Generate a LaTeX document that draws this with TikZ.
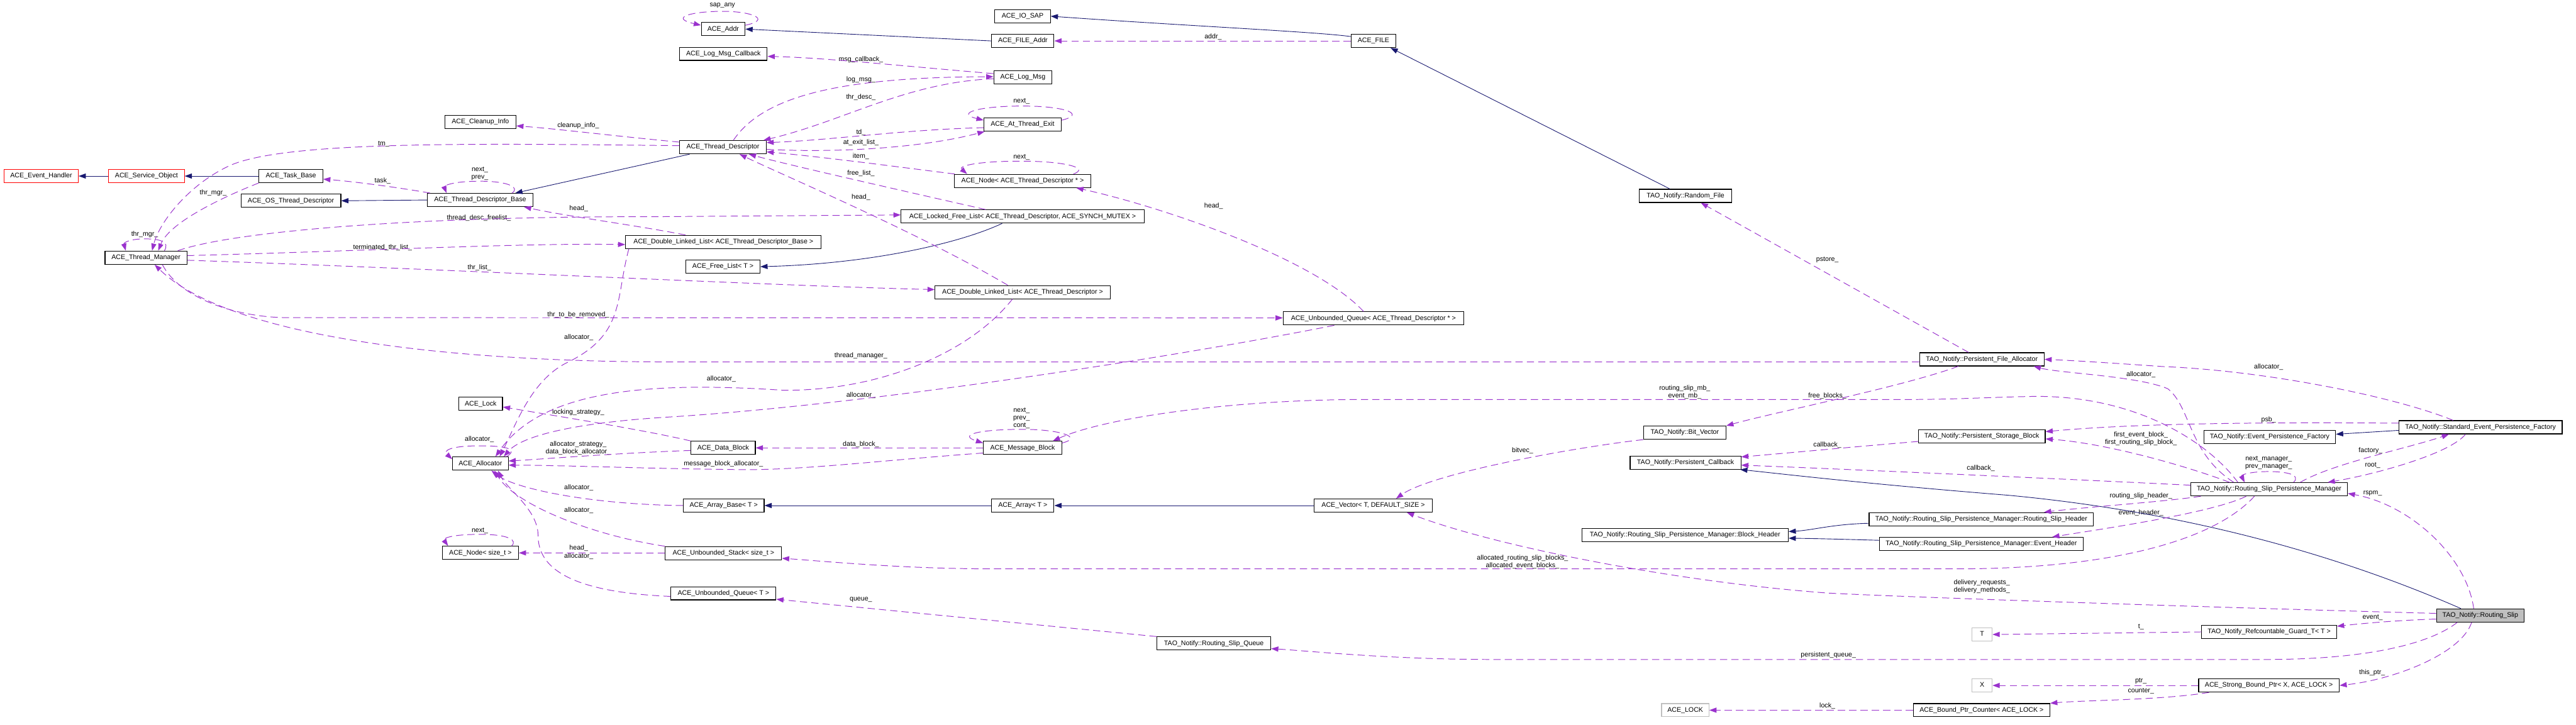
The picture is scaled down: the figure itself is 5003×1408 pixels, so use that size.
\documentclass[tikz,border=0pt]{standalone}
\usepackage{fontspec}
\setmainfont{Liberation Sans}
\usetikzlibrary{arrows.meta,calc}
\definecolor{depc}{HTML}{9A32CD}
\definecolor{inhc}{HTML}{191970}
\definecolor{greyb}{HTML}{BFBFBF}
\newcommand\dxf{\fontsize{6.5}{7.3}\selectfont}
\begin{document}
\begin{tikzpicture}[x=0.5pt,y=-0.5pt,
 cls/.style={draw=black, line width=0.7pt, fill=white, inner xsep=1pt, inner ysep=0pt, minimum height=12.8pt, font=\dxf, text height=4.8pt, text depth=1.4pt},
 lab/.style={font=\dxf, align=center, inner sep=0pt},
 dep/.style={draw=depc, line width=0.6pt, dash pattern=on 7pt off 4pt, -{Triangle[length=7pt,width=5pt]}},
 inh/.style={draw=inhc, line width=0.55pt, -{Triangle[length=7pt,width=5pt]}}]
\useasboundingbox (0,0) rectangle (5003,1408);
% classes
\node[cls, draw=red, minimum width=72pt] (eh) at (80,342) {ACE\_Event\_Handler};
\node[cls, draw=red, minimum width=73.5pt] (so) at (284.5,342) {ACE\_Service\_Object};
\node[cls, minimum width=62pt] (tb) at (565,342) {ACE\_Task\_Base};
\node[cls, minimum width=97pt] (ostd) at (565,390) {ACE\_OS\_Thread\_Descriptor};
\node[cls, minimum width=102.5pt] (tdb) at (932.5,388.5) {ACE\_Thread\_Descriptor\_Base};
\node[cls, minimum width=69pt] (ci) at (933,236.5) {ACE\_Cleanup\_Info};
\node[cls, minimum width=79.5pt] (tm) at (283.5,500.5) {ACE\_Thread\_Manager};
\node[cls, minimum width=42.5pt] (lock) at (933.5,784.5) {ACE\_Lock};
\node[cls, minimum width=54pt] (alloc) at (933,900.5) {ACE\_Allocator};
\node[cls, minimum width=74pt] (nst) at (933,1074) {ACE\_Node< size\_t >};
\node[cls, minimum width=42.5pt] (addr) at (1404.5,56.5) {ACE\_Addr};
\node[cls, minimum width=54pt] (iosap) at (1986,31.5) {ACE\_IO\_SAP};
\node[cls, minimum width=60.5pt] (faddr) at (1986.5,79.5) {ACE\_FILE\_Addr};
\node[cls, minimum width=85pt] (lmcb) at (1405,104.5) {ACE\_Log\_Msg\_Callback};
\node[cls, minimum width=56.5pt] (lm) at (1986.5,150) {ACE\_Log\_Msg};
\node[cls, minimum width=75pt] (ate) at (1986,242) {ACE\_At\_Thread\_Exit};
\node[cls, minimum width=84pt] (td) at (1404,286) {ACE\_Thread\_Descriptor};
\node[cls, minimum width=133pt] (ntd) at (1986,351.5) {ACE\_Node< ACE\_Thread\_Descriptor * >};
\node[cls, minimum width=236pt] (lfl) at (1986,420.5) {ACE\_Locked\_Free\_List< ACE\_Thread\_Descriptor, ACE\_SYNCH\_MUTEX >};
\node[cls, minimum width=190pt] (dlltdb) at (1405,470) {ACE\_Double\_Linked\_List< ACE\_Thread\_Descriptor\_Base >};
\node[cls, minimum width=72pt] (fl) at (1404,518) {ACE\_Free\_List< T >};
\node[cls, minimum width=170pt] (dlltd) at (1986,567.5) {ACE\_Double\_Linked\_List< ACE\_Thread\_Descriptor >};
\node[cls, minimum width=62.5pt] (db) at (1404.5,870) {ACE\_Data\_Block};
\node[cls, minimum width=76pt] (mb) at (1986,870) {ACE\_Message\_Block};
\node[cls, minimum width=175.5pt] (uqtd) at (2667.5,618.5) {ACE\_Unbounded\_Queue< ACE\_Thread\_Descriptor * >};
\node[cls, minimum width=43.5pt] (file) at (2667.5,79.5) {ACE\_FILE};
\node[cls, minimum width=89.5pt] (rf) at (3273.5,380.5) {TAO\_Notify::Random\_File};
\node[cls, minimum width=80pt] (bv) at (3272,840.5) {TAO\_Notify::Bit\_Vector};
\node[cls, minimum width=107.5pt] (pc) at (3273.5,898.5) {TAO\_Notify::Persistent\_Callback};
\node[cls, minimum width=121pt] (pfa) at (3849,698) {TAO\_Notify::Persistent\_File\_Allocator};
\node[cls, minimum width=123pt] (psb) at (3849,847.5) {TAO\_Notify::Persistent\_Storage\_Block};
\node[cls, minimum width=128pt] (epf) at (4408,848.5) {TAO\_Notify::Event\_Persistence\_Factory};
\node[cls, minimum width=158.5pt] (sepf) at (4817.5,830) {TAO\_Notify::Standard\_Event\_Persistence\_Factory};
\node[cls, minimum width=152pt] (rspm) at (4407,950.5) {TAO\_Notify::Routing\_Slip\_Persistence\_Manager};
\node[cls, minimum width=78.5pt] (ab) at (1405.5,982) {ACE\_Array\_Base< T >};
\node[cls, minimum width=60.5pt] (arr) at (1986.5,982) {ACE\_Array< T >};
\node[cls, minimum width=113pt] (ust) at (1405,1074.5) {ACE\_Unbounded\_Stack< size\_t >};
\node[cls, minimum width=102pt] (uqt) at (1405,1152.5) {ACE\_Unbounded\_Queue< T >};
\node[cls, minimum width=110.5pt] (rsq) at (2357.5,1250) {TAO\_Notify::Routing\_Slip\_Queue};
\node[cls, minimum width=115pt] (vec) at (2667,982) {ACE\_Vector< T, DEFAULT\_SIZE >};
\node[cls, minimum width=200.5pt] (bh) at (3272.5,1039.5) {TAO\_Notify::Routing\_Slip\_Persistence\_Manager::Block\_Header};
\node[cls, minimum width=218pt] (rsh) at (3848,1008.5) {TAO\_Notify::Routing\_Slip\_Persistence\_Manager::Routing\_Slip\_Header};
\node[cls, minimum width=198pt] (evh) at (3848,1056.5) {TAO\_Notify::Routing\_Slip\_Persistence\_Manager::Event\_Header};
\node[cls, draw=greyb, minimum width=46pt] (lk) at (3273,1379.5) {ACE\_LOCK};
\node[cls, minimum width=132.5pt] (bpc) at (3848.5,1379.5) {ACE\_Bound\_Ptr\_Counter< ACE\_LOCK >};
\node[cls, fill=greyb, minimum width=85pt] (rs) at (4817,1195.5) {TAO\_Notify::Routing\_Slip};
\node[cls, draw=greyb, minimum width=19.5pt] (tt) at (3849.5,1232.5) {T};
\node[cls, minimum width=131pt] (rg) at (4407,1227.5) {TAO\_Notify\_Refcountable\_Guard\_T< T >};
\node[cls, draw=greyb, minimum width=19.5pt] (xx) at (3849.5,1331.5) {X};
\node[cls, minimum width=136.5pt] (sbp) at (4406.5,1331.5) {ACE\_Strong\_Bound\_Ptr< X, ACE\_LOCK >};
% labels
\node[lab] (l01) at (1403,11) {sap\_any};
\node[lab] (l02) at (2356,72) {addr\_};
\node[lab] (l03) at (1672,116) {msg\_callback\_};
\node[lab] (l04) at (1672,155) {log\_msg\_};
\node[lab] (l05) at (1672,189) {thr\_desc\_};
\node[lab] (l06) at (1984,197) {next\_};
\node[lab] (l07) at (1672,257) {td\_};
\node[lab] (l08) at (1672,277) {at\_exit\_list\_};
\node[lab] (l09) at (1672,304) {item\_};
\node[lab] (l10) at (1984,306) {next\_};
\node[lab] (l11) at (1672,337) {free\_list\_};
\node[lab] (l12) at (1672,383) {head\_};
\node[lab] (l13) at (2357,400) {head\_};
\node[lab] (l14) at (1123,244) {cleanup\_info\_};
\node[lab] (l15) at (745,280) {tm\_};
\node[lab] (l16) at (414,375) {thr\_mgr\_};
\node[lab] (l17) at (281,455) {thr\_mgr\_};
\node[lab] (l18) at (743,352) {task\_};
\node[lab] (l19) at (932,337) {next\_\\prev\_};
\node[lab] (l20) at (1124,405) {head\_};
\node[lab] (l21) at (930,424) {thread\_desc\_freelist\_};
\node[lab] (l22) at (743,481) {terminated\_thr\_list\_};
\node[lab] (l23) at (931,520) {thr\_list\_};
\node[lab] (l24) at (1123,611) {thr\_to\_be\_removed\_};
\node[lab] (l25) at (1672,691) {thread\_manager\_};
\node[lab] (l26) at (1124,655) {allocator\_};
\node[lab] (l27) at (1401,736) {allocator\_};
\node[lab] (l28) at (1672,768) {allocator\_};
\node[lab] (l29) at (931,853) {allocator\_};
\node[lab] (l30) at (1123,801) {locking\_strategy\_};
\node[lab] (l31) at (1123,871) {allocator\_strategy\_\\data\_block\_allocator\_};
\node[lab] (l32) at (1405,901) {message\_block\_allocator\_};
\node[lab] (l33) at (1672,863) {data\_block\_};
\node[lab] (l34) at (1984,812) {next\_\\prev\_\\cont\_};
\node[lab] (l35) at (3272,762) {routing\_slip\_mb\_\\event\_mb\_};
\node[lab] (l36) at (3549,505) {pstore\_};
\node[lab] (l37) at (3549,769) {free\_blocks\_};
\node[lab] (l38) at (1124,948) {allocator\_};
\node[lab] (l39) at (1124,991) {allocator\_};
\node[lab] (l40) at (1124,1065) {head\_};
\node[lab] (l41) at (1124,1081) {allocator\_};
\node[lab] (l42) at (932,1031) {next\_};
\node[lab] (l43) at (2957,875) {bitvec\_};
\node[lab] (l44) at (3849,1139.5) {delivery\_requests\_\\delivery\_methods\_};
\node[lab] (l45) at (2957,1091.5) {allocated\_routing\_slip\_blocks\_\\allocated\_event\_blocks\_};
\node[lab] (l46) at (4158,963) {routing\_slip\_header\_};
\node[lab] (l47) at (4158,996) {event\_header\_};
\node[lab] (l48) at (3549,864) {callback\_};
\node[lab] (l49) at (3847,909) {callback\_};
\node[lab] (l50) at (4158,852.5) {first\_event\_block\_\\first\_routing\_slip\_block\_};
\node[lab] (l51) at (4158,728) {allocator\_};
\node[lab] (l52) at (4406,713) {allocator\_};
\node[lab] (l53) at (4406,815) {psb\_};
\node[lab] (l54) at (4604,875) {factory\_};
\node[lab] (l55) at (4608,904) {root\_};
\node[lab] (l56) at (4406,899.5) {next\_manager\_\\prev\_manager\_};
\node[lab] (l57) at (4608,959) {rspm\_};
\node[lab] (l58) at (4608,1200) {event\_};
\node[lab] (l59) at (4158,1218) {t\_};
\node[lab] (l60) at (3551,1273) {persistent\_queue\_};
\node[lab] (l61) at (1672,1165) {queue\_};
\node[lab] (l62) at (4607,1307) {this\_ptr\_};
\node[lab] (l63) at (4158,1323) {ptr\_};
\node[lab] (l64) at (4158,1343) {counter\_};
\node[lab] (l65) at (3549,1371) {lock\_};
% inheritance
\draw[inh] (faddr.west) -- (addr.east);
\draw[inh] ($(file.north west)+(0,5)$) .. controls (2560,62) and (2300,50) .. (iosap.east);
\draw[inh] ($(rf.north west)+(60,0)$) -- ($(file.south east)+(-11,0)$);
\draw[inh] (tb.west) -- (so.east);
\draw[inh] (so.west) -- (eh.east);
\draw[inh] ($(td.south west)+(20,0)$) -- ($(tdb.north east)+(-35,0)$);
\draw[inh] (tdb.west) -- (ostd.east);
\draw[inh] ($(lfl.south west)+(197,0)$) .. controls (1870,470) and (1700,512) .. (fl.east);
\draw[inh] (vec.west) -- (arr.east);
\draw[inh] (arr.west) -- (ab.east);
\draw[inh] ($(rsh.west)+(0,8)$) .. controls (3560,1018) and (3520,1030) .. ($(bh.east)+(0,-7)$);
\draw[inh] ($(evh.west)+(0,-7)$) .. controls (3560,1047) and (3520,1046) .. ($(bh.east)+(0,6)$);
\draw[inh] ($(rs.north west)+(48,0)$) .. controls (4500,1060) and (4200,990) .. (3900,962) .. controls (3650,942) and (3500,925) .. ($(pc.south east)+(-2,0)$);
\draw[inh] ($(sepf.west)+(0,6)$) -- ($(epf.east)+(0,-5)$);
% usage
\draw[dep] ($(addr.north east)+(0,6)$) .. controls (1500,38) and (1460,22) .. (1404,22) .. controls (1340,22) and (1300,35) .. ($(addr.north west)+(0,6)$);
\draw[dep] (file.west) -- (faddr.east);
\draw[dep] ($(lm.west)+(0,-7)$) .. controls (1750,128) and (1600,112) .. ($(lmcb.east)+(0,5)$);
\draw[dep] ($(td.north west)+(105,0)$) .. controls (1480,190) and (1620,150) .. ($(lm.west)+(0,-1)$);
\draw[dep] ($(lm.west)+(0,3)$) .. controls (1760,160) and (1640,235) .. ($(td.north east)+(-6,0)$);
\draw[dep] ($(ate.north east)+(0,5)$) .. controls (2110,222) and (2070,206) .. (1986,206) .. controls (1900,206) and (1855,220) .. ($(ate.north west)+(0,5)$);
\draw[dep] ($(ate.west)+(0,6)$) .. controls (1750,252) and (1620,272) .. ($(td.east)+(0,-9)$);
\draw[dep] ($(td.east)+(0,4)$) .. controls (1640,298) and (1800,285) .. ($(ate.south west)+(2,0)$);
\draw[dep] ($(ntd.north west)+(2,0)$) .. controls (1750,325) and (1600,305) .. ($(td.east)+(0,9)$);
\draw[dep] ($(ntd.north east)+(-35,0)$) .. controls (2120,325) and (2060,313) .. (1984,313) .. controls (1900,313) and (1860,322) .. ($(ntd.north west)+(26,0)$);
\draw[dep] ($(lfl.north west)+(165,0)$) .. controls (1750,370) and (1530,320) .. ($(td.south west)+(135,0)$);
\draw[dep] ($(dlltd.north west)+(142,0)$) .. controls (1780,450) and (1520,340) .. ($(td.south west)+(117,0)$);
\draw[dep] ($(uqtd.north west)+(157,0)$) .. controls (2550,500) and (2250,400) .. ($(ntd.south west)+(238,0)$);
\draw[dep] ($(td.west)+(0,-10)$) .. controls (1200,265) and (1080,250) .. ($(ci.east)+(0,8)$);
\draw[dep] ($(td.west)+(0,-3)$) .. controls (900,278) and (560,275) .. (450,320) .. controls (370,355) and (310,430) .. ($(tm.north west)+(92,0)$);
\draw[dep] (tb.south west) .. controls (440,380) and (330,430) .. ($(tm.north west)+(104,0)$);
\draw[dep] ($(tm.north west)+(116,0)$) .. controls (330,470) and (312,464) .. (282,464) .. controls (250,464) and (240,472) .. ($(tm.north west)+(41,0)$);
\draw[dep] ($(tdb.north west)+(6,0)$) .. controls (760,362) and (680,352) .. ($(tb.east)+(0,6)$);
\draw[dep] ($(tdb.north west)+(165,0)$) .. controls (1010,365) and (990,352) .. (932,352) .. controls (875,352) and (862,362) .. ($(tdb.north west)+(38,0)$);
\draw[dep] ($(dlltdb.north west)+(117,0)$) .. controls (1250,440) and (1100,420) .. ($(tdb.south east)+(-18,0)$);
\draw[dep] ($(tm.north west)+(142,0)$) .. controls (450,450) and (800,420) .. (1260,421) -- ($(lfl.west)+(0,-3)$);
\draw[dep] ($(tm.east)+(0,-4)$) .. controls (700,488) and (1000,472) .. ($(dlltdb.west)+(0,5)$);
\draw[dep] ($(tm.east)+(0,5)$) .. controls (800,520) and (1500,555) .. ($(dlltd.west)+(0,-5)$);
\draw[dep] ($(tm.south west)+(112,0)$) .. controls (350,580) and (460,617) .. (560,617) -- ($(uqtd.west)+(0,-1)$);
\draw[dep] ($(pfa.west)+(0,5)$) -- (1300,703) .. controls (900,703) and (450,660) .. ($(tm.south west)+(97,0)$);
\draw[dep] ($(dlltdb.south west)+(7,0)$) .. controls (1195,580) and (1215,650) .. (1100,705) .. controls (1030,740) and (1000,830) .. ($(alloc.north west)+(92,0)$);
\draw[dep] ($(dlltd.south west)+(151,0)$) .. controls (1880,690) and (1700,760) .. (1520,758) .. controls (1250,740) and (1050,760) .. ($(alloc.north west)+(84,0)$);
\draw[dep] ($(uqtd.south west)+(100,0)$) .. controls (2300,690) and (1700,785) .. (1300,810) .. controls (1100,822) and (1010,850) .. ($(alloc.north west)+(100,0)$);
\draw[dep] ($(alloc.north east)+(-4,0)$) .. controls (1005,874) and (990,866) .. (932,866) .. controls (875,866) and (860,875) .. ($(alloc.north west)+(0,5)$);
\draw[dep] (db.north west) .. controls (1250,835) and (1080,808) .. ($(lock.east)+(0,6)$);
\draw[dep] ($(db.west)+(0,5)$) .. controls (1200,880) and (1050,892) .. ($(alloc.east)+(0,-5)$);
\draw[dep] ($(mb.west)+(0,10)$) .. controls (1700,895) and (1550,915) .. (1420,912) .. controls (1250,910) and (1100,904) .. ($(alloc.east)+(0,3)$);
\draw[dep] (mb.west) -- (db.east);
\draw[dep] ($(mb.north east)+(0,4)$) .. controls (2105,850) and (2060,834) .. (1986,834) .. controls (1900,834) and (1860,845) .. ($(mb.north west)+(0,4)$);
\draw[dep] ($(rspm.north west)+(92,0)$) .. controls (4290,860) and (4150,768) .. (3950,770) .. controls (3850,772) and (3800,776) .. (3700,776) -- (2650,776) .. controls (2400,776) and (2150,810) .. ($(mb.north east)+(-18,0)$);
\draw[dep] ($(pfa.north west)+(96,0)$) -- ($(rf.south west)+(120,0)$);
\draw[dep] ($(pfa.south west)+(76,0)$) .. controls (3700,750) and (3450,800) .. (bv.north east);
\draw[dep] (ab.west) .. controls (1150,980) and (1000,950) .. ($(alloc.south west)+(76,0)$);
\draw[dep] (ust.north west) .. controls (1150,1040) and (1000,980) .. ($(alloc.south west)+(82,0)$);
\draw[dep] (ust.west) -- (nst.east);
\draw[dep] ($(uqt.west)+(0,6)$) .. controls (1100,1150) and (1045,1100) .. (1045,1040) .. controls (1045,990) and (985,950) .. ($(alloc.south west)+(89,0)$);
\draw[dep] ($(nst.north east)+(-14,0)$) .. controls (1005,1050) and (990,1038) .. (932,1038) .. controls (875,1038) and (860,1046) .. ($(nst.north west)+(12,0)$);
\draw[dep] (bv.south west) .. controls (3050,870) and (2780,920) .. ($(vec.north west)+(160,0)$);
\draw[dep] ($(rs.west)+(0,-4)$) .. controls (4300,1180) and (3700,1160) .. (3550,1152) .. controls (3250,1130) and (2900,1060) .. ($(vec.south west)+(181,0)$);
\draw[dep] ($(rspm.south west)+(124,0)$) .. controls (4300,1050) and (4100,1105) .. (3800,1105) -- (1930,1105) .. controls (1750,1105) and (1600,1090) .. ($(ust.east)+(0,10)$);
\draw[dep] ($(rspm.south west)+(20,0)$) .. controls (4200,975) and (4050,985) .. ($(rsh.north east)+(-97,0)$);
\draw[dep] ($(rspm.south west)+(108,0)$) .. controls (4300,995) and (4100,1025) .. ($(evh.north east)+(-61,0)$);
\draw[dep] ($(psb.west)+(0,10)$) .. controls (3600,868) and (3450,882) .. ($(pc.east)+(0,-11)$);
\draw[dep] ($(rspm.west)+(0,-8)$) .. controls (4000,930) and (3600,912) .. ($(pc.east)+(0,5)$);
\draw[dep] ($(rspm.north west)+(76,0)$) .. controls (4260,910) and (4100,862) .. ($(psb.east)+(0,5)$);
\draw[dep] ($(rspm.north west)+(84,0)$) .. controls (4250,880) and (4255,790) .. (4210,755) .. controls (4150,730) and (4000,725) .. ($(pfa.south east)+(-21,0)$);
\draw[dep] ($(sepf.north west)+(106,0)$) .. controls (4650,770) and (4400,720) .. (4200,712) .. controls (4100,705) and (4020,700) .. (pfa.east);
\draw[dep] ($(sepf.west)+(0,-8)$) .. controls (4400,820) and (4150,822) .. ($(psb.east)+(0,-9)$);
\draw[dep] ($(rspm.north west)+(213,0)$) .. controls (4530,900) and (4680,870) .. ($(sepf.south west)+(98,0)$);
\draw[dep] ($(sepf.south west)+(130,0)$) .. controls (4760,880) and (4620,920) .. ($(rspm.north east)+(-39,0)$);
\draw[dep] ($(rspm.north west)+(200,0)$) .. controls (4470,922) and (4440,916) .. (4406,916) .. controls (4372,916) and (4352,922) .. ($(rspm.north west)+(105,0)$);
\draw[dep] ($(rs.north west)+(73,0)$) .. controls (4790,1080) and (4680,980) .. ($(rspm.east)+(0,8)$);
\draw[dep] ($(rs.west)+(0,7)$) .. controls (4650,1205) and (4580,1212) .. ($(rg.east)+(0,-11)$);
\draw[dep] (rg.west) -- (tt.east);
\draw[dep] ($(rs.south west)+(41,0)$) .. controls (4720,1250) and (4600,1281) .. (4400,1281) -- (2900,1281) .. controls (2700,1281) and (2550,1265) .. ($(rsq.east)+(0,10)$);
\draw[dep] (rsq.north west) -- ($(uqt.south east)+(0,-2)$);
\draw[dep] ($(rs.south west)+(69,0)$) .. controls (4780,1270) and (4650,1320) .. (sbp.east);
\draw[dep] (sbp.west) -- (xx.east);
\draw[dep] ($(sbp.south west)+(21,0)$) .. controls (4200,1360) and (4050,1360) .. (bpc.north east);
\draw[dep] (bpc.west) -- (lk.east);
\end{tikzpicture}
\end{document}
